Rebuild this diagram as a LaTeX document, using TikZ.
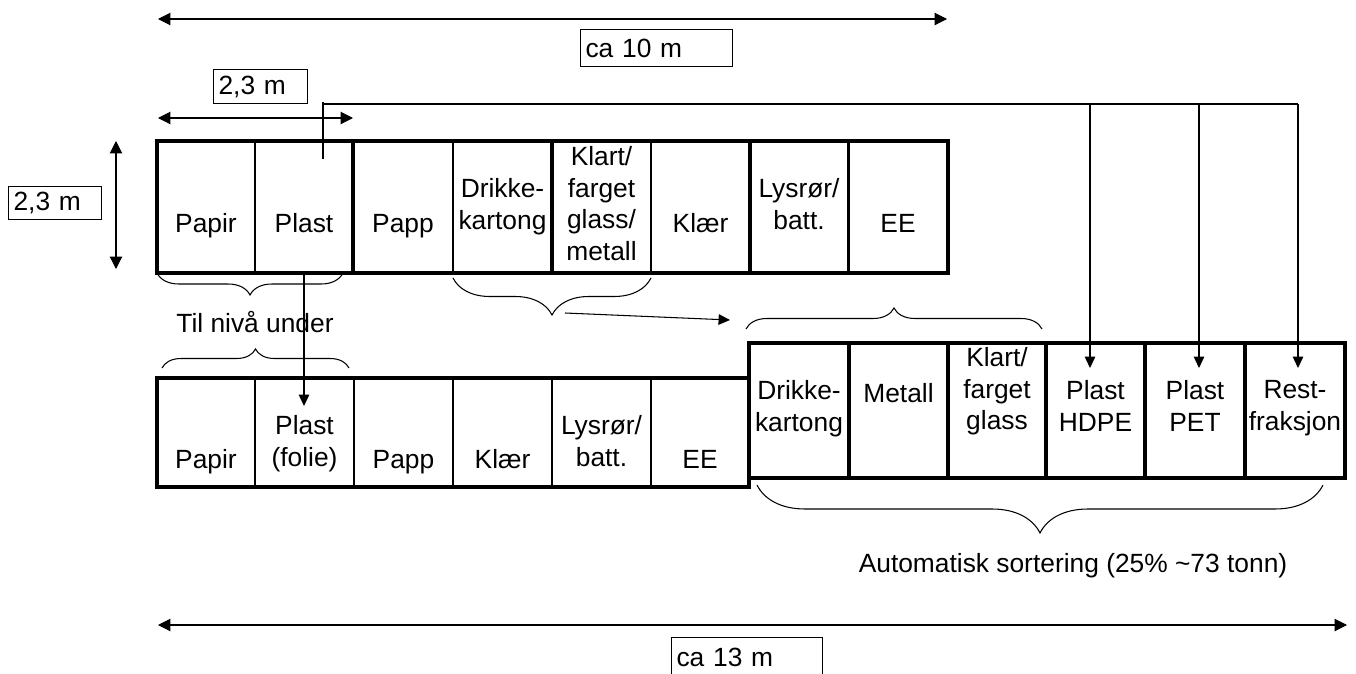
\documentclass[tikz,border=0pt]{standalone}
\usepackage{fontspec}
\setmainfont{Liberation Sans}
\usetikzlibrary{arrows.meta, decorations.pathreplacing}
\newcommand{\labelfont}{\fontsize{15}{18}\selectfont}

\begin{document}
\begin{tikzpicture}[x=0.02cm, y=-0.02cm, font=\labelfont,
  heavy/.style={line width=2.8pt},
  wall/.style={line width=1.3pt},
  dim/.style={line width=0.6pt, {Triangle[length=7pt,width=7pt]}-{Triangle[length=7pt,width=7pt]}},
  feed/.style={line width=0.6pt, -{Triangle[length=6.5pt,width=6pt]}},
  dimbox/.style={draw, line width=0.6pt, anchor=north west, inner xsep=0.1cm, inner ysep=0pt, align=left, text width=#1},
  cell/.style={inner sep=0pt, anchor=north, align=center, execute at begin node=\strut},
  bracedown/.style={line width=0.6pt, decorate, decoration={brace, mirror, amplitude=#1}},
  braceup/.style={line width=0.6pt, decorate, decoration={brace, amplitude=#1}}]
\useasboundingbox (0,0) rectangle (1356,673);
\clip (0,0) rectangle (1356,673);

% Dimension arrows and labels
\coordinate (w10l) at (158,19);
\coordinate (w10r) at (947,19);
\coordinate (w23l) at (158,118);
\coordinate (w23r) at (353,118);
\coordinate (h23t) at (116,141);
\coordinate (h23b) at (116,269);
\coordinate (w13l) at (158,625);
\coordinate (w13r) at (1347,625);
\draw[dim] (w10l) -- (w10r);
\draw[dim] (w23l) -- (w23r);
\draw[dim] (h23t) -- (h23b);
\draw[dim] (w13l) -- (w13r);
\node[dimbox=2.84cm, minimum height=0.74cm] (ca10) at (580,29) {ca 10 m};
\node[dimbox=1.68cm, minimum height=0.68cm] (w23) at (213,69) {2,3 m};
\node[dimbox=1.66cm, minimum height=0.66cm] (h23) at (8,186) {2,3 m};
\node[dimbox=2.82cm, minimum height=0.8cm] (ca13) at (671,637) {ca 13 m};

% Upper level
\draw[heavy] (157,141) rectangle (948,273);
\foreach \x/\w in {255/1.1pt, 353/2.8pt, 453/1.1pt, 552/2.8pt, 651/0.8pt, 750/2.8pt, 848/1.7pt}
  \draw[line width=\w] (\x,141) -- (\x,273);
\node[cell] (tpapir) at (206,210) {Papir};
\node[cell] (tplast) at (304,210) {Plast};
\node[cell] (tpapp) at (403,210) {Papp};
\node[cell] (tdrikke) at (502.5,178) {Drikke-\\kartong};
\node[cell] (tglass) at (601.5,146) {Klart/\\farget\\glass/\\metall};
\node[cell] (tklaer) at (700.5,210) {Klær};
\node[cell] (tlys) at (799,178) {Lysrør/\\batt.};
\node[cell] (tee) at (898,210) {EE};

% Lower level, manual
\draw[heavy] (157,378) rectangle (749,487);
\foreach \x in {255,354,453,552,651}
  \draw[wall] (\x,378) -- (\x,487);
\node[cell] (bpapir) at (206,446) {Papir};
\node[cell] (bplast) at (304.5,415) {Plast\\(folie)};
\node[cell] (bpapp) at (403.5,446) {Papp};
\node[cell] (bklaer) at (502.5,446) {Klær};
\node[cell] (blys) at (601.5,415) {Lysrør/\\batt.};
\node[cell] (bee) at (700,446) {EE};

% Lower level, automatic sorting
\draw[heavy] (749,343) rectangle (1345,478);
\foreach \x in {849,948,1046,1145,1245}
  \draw[line width=2pt] (\x,343) -- (\x,478);
\node[cell] (adrikke) at (799,380) {Drikke-\\kartong};
\node[cell] (ametall) at (898.5,380) {Metall};
\node[cell] (aglass) at (997,347) {Klart/\\farget\\glass};
\node[cell] (ahdpe) at (1095.5,380) {Plast\\HDPE};
\node[cell] (apet) at (1195,380) {Plast\\PET};
\node[cell] (arest) at (1295,380) {Rest-\\fraksjon};

% Braces
\draw[bracedown=0.44cm] (157,273) -- (343,273);
\draw[bracedown=0.74cm] (453,278) -- (651,278);
\draw[braceup=0.42cm] (746,329) -- (1042,329);
\draw[braceup=0.38cm] (162,368) -- (349,368);
\draw[bracedown=0.96cm] (757,485) -- (1323,485);
\node[anchor=base] (tilniva) at (255,332) {Til nivå under};
\node[anchor=base] (autosort) at (1073,572) {Automatisk sortering (25\% \textasciitilde73 tonn)};

% Plastic feed lines
\coordinate (plastsrc) at (323,159);
\coordinate (plasttop) at (323,102);
\coordinate (busstart) at (323,104);
\coordinate (busend) at (1298,104);
\coordinate (hdpein) at (1090,368);
\coordinate (petin) at (1199,368);
\coordinate (restin) at (1298,368);
\draw[line width=0.6pt] (plastsrc) -- (plasttop);
\draw[line width=0.6pt] (busstart) -- (busend);
\draw[feed] (hdpein |- busstart) -- (hdpein);
\draw[feed] (petin |- busstart) -- (petin);
\draw[feed] (busend) -- (restin);

\coordinate (foliesrc) at (304,273);
\coordinate (foliein) at (304,406);
\draw[feed] (foliesrc) -- (foliein);
\coordinate (glasstip) at (565,313);
\coordinate (autotip) at (730,320);
\draw[feed] (glasstip) -- (autotip);

\end{tikzpicture}
\end{document}
